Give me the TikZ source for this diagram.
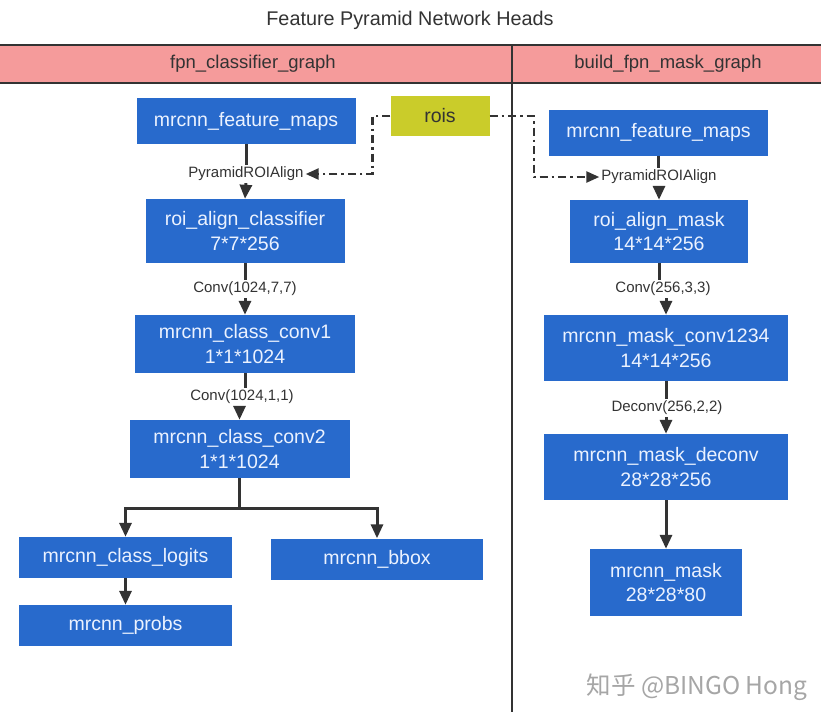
\documentclass[tikz,border=0pt]{standalone}
\usepackage{fontspec}
\setmainfont{Liberation Sans}
\newfontfamily\cjk{Noto Sans CJK SC}
\usetikzlibrary{arrows.meta}
\definecolor{boxblue}{RGB}{40,106,204}
\definecolor{roisyel}{RGB}{202,204,42}
\definecolor{hdrpink}{RGB}{245,155,155}
\definecolor{ink}{RGB}{51,51,51}
\definecolor{boxtxt}{RGB}{235,242,255}
\begin{document}
\begin{tikzpicture}[x=1pt,y=-1pt,
  box/.style={fill=boxblue,text=boxtxt,inner sep=0pt,align=center,
    font=\fontsize{19.5}{24.5}\selectfont},
  rbox/.style={fill=roisyel,text=ink,inner sep=0pt,
    font=\fontsize{19.5}{24}\selectfont},
  lbl/.style={text=ink,inner sep=2pt,font=\fontsize{15}{18}\selectfont},
  hdr/.style={text=ink,inner sep=0pt,font=\fontsize{18.5}{22}\selectfont},
  conn/.style={draw=ink,line width=3pt},
  arr/.style={conn,-{Triangle[length=14pt,width=12pt]}},
  dd/.style={draw=ink,line width=2.4pt,dash pattern=on 8pt off 4pt on 2.5pt off 4pt,
    -{Triangle[length=13pt,width=11pt]}}
]
\useasboundingbox (0,0) rectangle (821,712);
\fill[white] (0,0) rectangle (821,712);
% header band
\fill[hdrpink] (0,45) rectangle (821,83);
\draw[ink,line width=2pt] (0,45) -- (821,45);
\draw[ink,line width=2pt] (0,83) -- (821,83);
\draw[ink,line width=2pt] (512,45) -- (512,712);
\node[hdr,font=\fontsize{19.8}{22}\selectfont] (title) at (410,20) {Feature Pyramid Network Heads};
\node[hdr] (hl) at (253,64) {fpn\_classifier\_graph};
\node[hdr] (hr) at (668,64) {build\_fpn\_mask\_graph};

% left column
\node[box,minimum width=219pt,minimum height=46pt] (lfm) at (246,121) {mrcnn\_feature\_maps};
\node[rbox,minimum width=99pt,minimum height=40pt] (rois) at (440,116) {rois};
\node[lbl] (lpr) at (246,174) {PyramidROIAlign};
\node[box,minimum width=199pt,minimum height=64pt] (lra) at (245,231) {roi\_align\_classifier\\7*7*256};
\node[lbl] (lc1) at (245,289) {Conv(1024,7,7)};
\node[box,minimum width=220pt,minimum height=58pt] (lcc1) at (245,344) {mrcnn\_class\_conv1\\1*1*1024};
\node[lbl] (lc2) at (242,397) {Conv(1024,1,1)};
\node[box,minimum width=220pt,minimum height=58pt] (lcc2) at (239.5,449) {mrcnn\_class\_conv2\\1*1*1024};
\node[box,minimum width=213pt,minimum height=41pt] (logits) at (125.5,557.5) {mrcnn\_class\_logits};
\node[box,minimum width=212pt,minimum height=41pt] (bbox) at (377,559) {mrcnn\_bbox};
\node[box,minimum width=213pt,minimum height=41pt] (probs) at (125.5,625.5) {mrcnn\_probs};

% right column
\node[box,minimum width=219pt,minimum height=46pt] (rfm) at (658.5,132.5) {mrcnn\_feature\_maps};
\node[lbl] (rpr) at (659,177) {PyramidROIAlign};
\node[box,minimum width=178pt,minimum height=63pt] (ram) at (659,231.5) {roi\_align\_mask\\14*14*256};
\node[lbl] (rc3) at (663,289) {Conv(256,3,3)};
\node[box,minimum width=244pt,minimum height=66pt] (rconv) at (666,348) {mrcnn\_mask\_conv1234\\14*14*256};
\node[lbl] (rdc) at (667,408) {Deconv(256,2,2)};
\node[box,minimum width=244pt,minimum height=66pt] (rdeconv) at (666,467) {mrcnn\_mask\_deconv\\28*28*256};
\node[box,minimum width=152pt,minimum height=67pt] (rmask) at (666,582.5) {mrcnn\_mask\\28*28*80};

% left connectors
\draw[conn] (lfm.south) -- (lpr.north);
\draw[arr] (lpr.south) -- (lra.north);
\draw[conn] (lra.south) -- (lc1.north);
\draw[arr] (lc1.south) -- (lcc1.north);
\draw[conn] (lcc1.south) -- (lcc1.south |- lc2.north);
\draw[arr] (lcc2.north |- lc2.south) -- (lcc2.north);
\path (lcc2.south) ++(0,30) coordinate (br);
\draw[conn] (lcc2.south) -- (br);
\draw[arr] (br) -| (logits.north);
\draw[arr] (br) -| (bbox.north);
\draw[arr] (logits.south) -- (probs.north);

% right connectors
\draw[conn] (rfm.south) -- (rfm.south |- rpr.north);
\draw[arr] (rpr.south) -- (ram.north);
\draw[conn] (ram.south) -- (ram.south |- rc3.north);
\draw[arr] (rconv.north |- rc3.south) -- (rconv.north);
\draw[conn] (rconv.south) -- (rconv.south |- rdc.north);
\draw[arr] (rdeconv.north |- rdc.south) -- (rdeconv.north);
\draw[arr] (rdeconv.south) -- (rmask.north);

% rois connectors
\draw[dd] (rois.west) -- ++(-18,0) |- (lpr.east);
\draw[dd] (rois.east) -- ++(44,0) |- (rpr.west);

% watermark
\node[text=black!35,inner sep=0pt,font=\cjk\fontsize{24.5}{28}\selectfont] (wm) at (697,687) {知乎 @BINGO Hong};
\end{tikzpicture}
\end{document}
